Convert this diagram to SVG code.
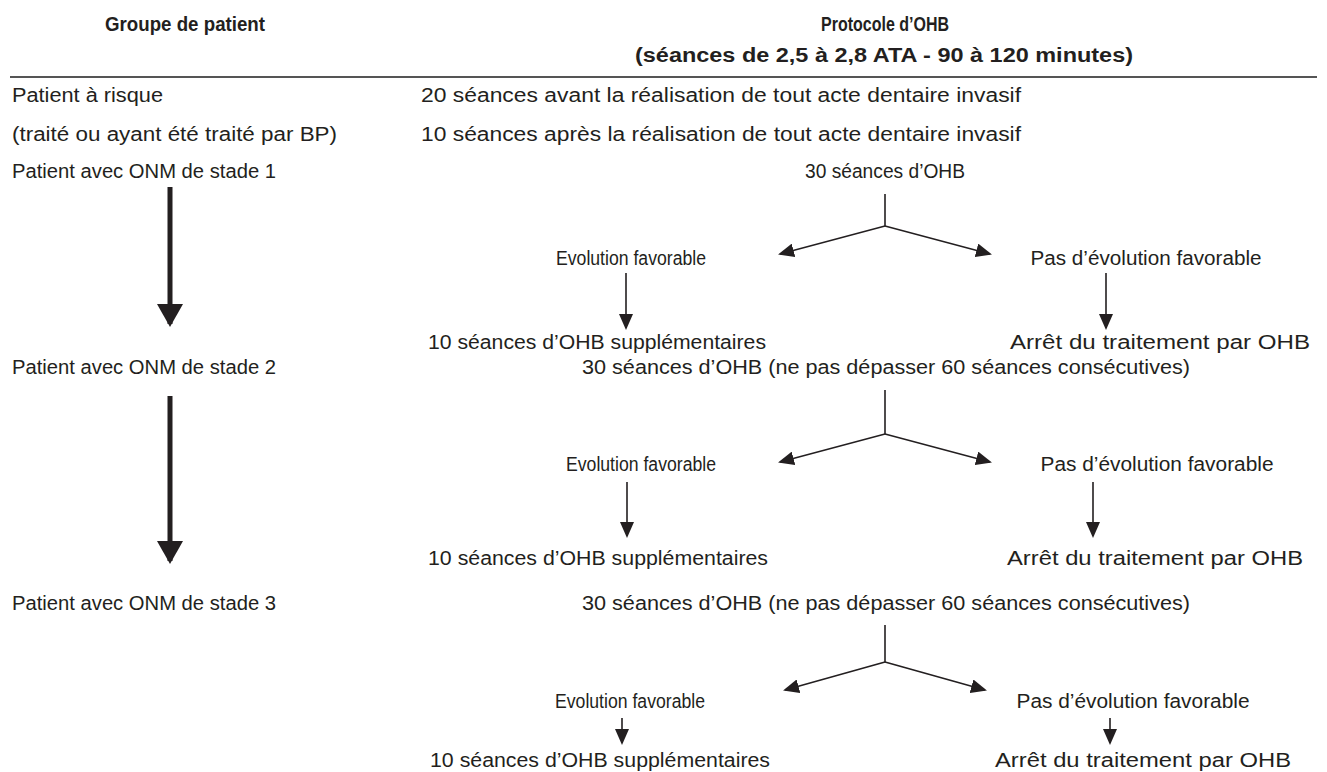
<svg xmlns="http://www.w3.org/2000/svg" width="1327" height="772" viewBox="0 0 1327 772">
<style>
text{font-family:"Liberation Sans",Arial,sans-serif;font-size:20px;fill:#231f20}
.b{font-weight:bold}
.m{text-anchor:middle}
.ln{stroke:#231f20;stroke-width:1.6;fill:none;marker-end:url(#ah)}
.vl{stroke:#231f20;stroke-width:1.6;fill:none}
.thick{stroke:#231f20;stroke-width:5;fill:none;marker-end:url(#bh)}
</style>
<defs>
<marker id="ah" markerUnits="userSpaceOnUse" markerWidth="16" markerHeight="14" refX="14" refY="7" orient="auto">
<path d="M0,0 L16,7 L0,14 z" fill="#231f20"/>
</marker>
<marker id="bh" markerUnits="userSpaceOnUse" markerWidth="23" markerHeight="26" refX="20" refY="13" orient="auto">
<path d="M0,0 L23,13 L0,26 z" fill="#231f20"/>
</marker>
</defs>
<rect width="1327" height="772" fill="#fff"/>
<g id="header">
<text class="b m" x="185" y="31" textLength="160" lengthAdjust="spacingAndGlyphs">Groupe de patient</text>
<text class="b m" x="885" y="31" textLength="128" lengthAdjust="spacingAndGlyphs">Protocole d’OHB</text>
<text class="b m" x="884" y="62" textLength="498" lengthAdjust="spacingAndGlyphs">(séances de 2,5 à 2,8 ATA - 90 à 120 minutes)</text>
<line x1="10" y1="77" x2="1317" y2="77" stroke="#555" stroke-width="2"/>
</g>
<g id="risk">
<text x="12" y="102" textLength="151" lengthAdjust="spacingAndGlyphs">Patient à risque</text>
<text x="12" y="141" textLength="325" lengthAdjust="spacingAndGlyphs">(traité ou ayant été traité par BP)</text>
<text x="421" y="102" textLength="600" lengthAdjust="spacingAndGlyphs">20 séances avant la réalisation de tout acte dentaire invasif</text>
<text x="421" y="141" textLength="600" lengthAdjust="spacingAndGlyphs">10 séances après la réalisation de tout acte dentaire invasif</text>
</g>
<g id="stage1">
<text x="12" y="178" textLength="264" lengthAdjust="spacingAndGlyphs">Patient avec ONM de stade 1</text>
<text class="m" x="885" y="178" textLength="160" lengthAdjust="spacingAndGlyphs">30 séances d’OHB</text>
<text class="m" x="631" y="265" textLength="150" lengthAdjust="spacingAndGlyphs">Evolution favorable</text>
<text class="m" x="1146" y="265" textLength="231" lengthAdjust="spacingAndGlyphs">Pas d’évolution favorable</text>
<text class="m" x="597" y="349" textLength="338" lengthAdjust="spacingAndGlyphs">10 séances d’OHB supplémentaires</text>
<text class="m" x="1160" y="349" textLength="300" lengthAdjust="spacingAndGlyphs">Arrêt du traitement par OHB</text>
</g>
<g id="stage2">
<text x="12" y="374" textLength="264" lengthAdjust="spacingAndGlyphs">Patient avec ONM de stade 2</text>
<text class="m" x="886" y="374" textLength="608" lengthAdjust="spacingAndGlyphs">30 séances d’OHB (ne pas dépasser 60 séances consécutives)</text>
<text class="m" x="641" y="471" textLength="150" lengthAdjust="spacingAndGlyphs">Evolution favorable</text>
<text class="m" x="1157" y="471" textLength="233" lengthAdjust="spacingAndGlyphs">Pas d’évolution favorable</text>
<text class="m" x="598" y="565" textLength="340" lengthAdjust="spacingAndGlyphs">10 séances d’OHB supplémentaires</text>
<text class="m" x="1155" y="565" textLength="296" lengthAdjust="spacingAndGlyphs">Arrêt du traitement par OHB</text>
</g>
<g id="stage3">
<text x="12" y="610" textLength="264" lengthAdjust="spacingAndGlyphs">Patient avec ONM de stade 3</text>
<text class="m" x="886" y="610" textLength="608" lengthAdjust="spacingAndGlyphs">30 séances d’OHB (ne pas dépasser 60 séances consécutives)</text>
<text class="m" x="630" y="708" textLength="150" lengthAdjust="spacingAndGlyphs">Evolution favorable</text>
<text class="m" x="1133" y="708" textLength="233" lengthAdjust="spacingAndGlyphs">Pas d’évolution favorable</text>
<text class="m" x="600" y="767" textLength="340" lengthAdjust="spacingAndGlyphs">10 séances d’OHB supplémentaires</text>
<text class="m" x="1143" y="767" textLength="296" lengthAdjust="spacingAndGlyphs">Arrêt du traitement par OHB</text>
</g>
<g id="connectors">
<line class="thick" x1="170" y1="187" x2="170" y2="324"/>
<line class="thick" x1="170" y1="396" x2="170" y2="561"/>
<line class="vl" x1="885" y1="194" x2="885" y2="226"/>
<line class="ln" x1="885" y1="226" x2="780" y2="254"/>
<line class="ln" x1="885" y1="226" x2="990" y2="254"/>
<line class="ln" x1="626" y1="273" x2="626" y2="328"/>
<line class="ln" x1="1106" y1="273" x2="1106" y2="328"/>
<line class="vl" x1="885" y1="390" x2="885" y2="434"/>
<line class="ln" x1="885" y1="434" x2="780" y2="462"/>
<line class="ln" x1="885" y1="434" x2="990" y2="462"/>
<line class="ln" x1="627" y1="482" x2="627" y2="536"/>
<line class="ln" x1="1093" y1="482" x2="1093" y2="536"/>
<line class="vl" x1="885" y1="625" x2="885" y2="662"/>
<line class="ln" x1="885" y1="662" x2="785" y2="690"/>
<line class="ln" x1="885" y1="662" x2="985" y2="690"/>
<line class="ln" x1="622" y1="718" x2="622" y2="743"/>
<line class="ln" x1="1110" y1="718" x2="1110" y2="743"/>
</g>
</svg>
